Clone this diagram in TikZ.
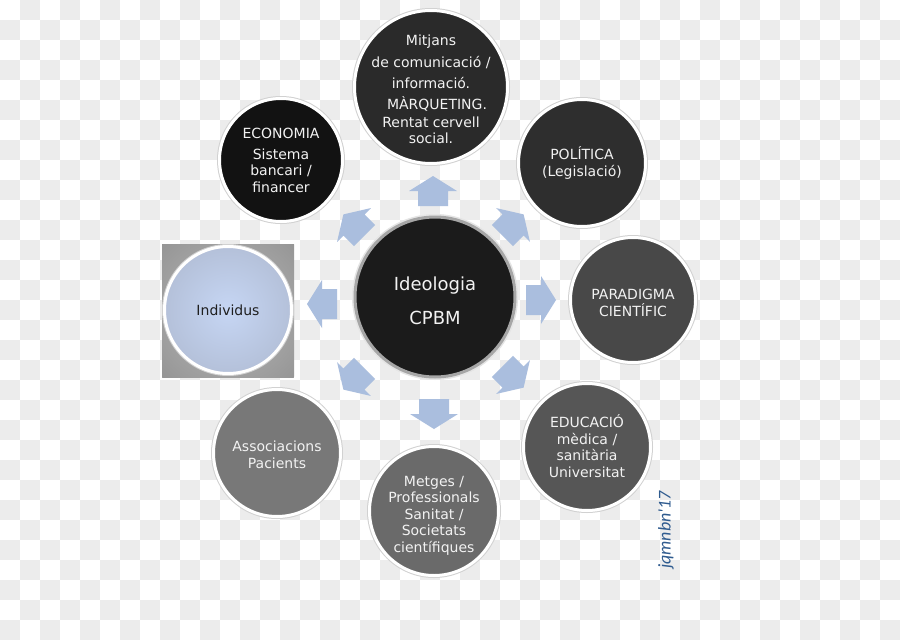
\documentclass[tikz,border=0pt]{standalone}
\usepackage{fontspec}
\setmainfont{DejaVu Sans}
\newfontfamily\sigfont{Carlito}
\definecolor{chk}{HTML}{ECECEC}
\definecolor{arrowblue}{HTML}{AABEDE}
\definecolor{txtw}{HTML}{F2F2F2}
\definecolor{cMit}{HTML}{2A2A2A}
\definecolor{cEco}{HTML}{121212}
\definecolor{cPol}{HTML}{2E2E2E}
\definecolor{cPar}{HTML}{484848}
\definecolor{cEdu}{HTML}{565656}
\definecolor{cMet}{HTML}{6A6A6A}
\definecolor{cAss}{HTML}{787878}
\definecolor{cCen}{HTML}{1B1B1B}
\definecolor{sigblue}{HTML}{2F5B8F}
\definecolor{sqin}{HTML}{B8B8B8}
\definecolor{sqmid}{HTML}{888888}
\definecolor{sqout}{HTML}{5E5E5E}
\definecolor{indc}{HTML}{C6D6F4}
\definecolor{indm}{HTML}{B2BED6}
\definecolor{indo}{HTML}{9AA1B0}
\pgfdeclareradialshading{sqshade}{\pgfpoint{0bp}{0bp}}{color(0bp)=(sqin);color(35bp)=(sqmid);color(50bp)=(sqout)}
\pgfdeclareradialshading{indshade}{\pgfpoint{0bp}{0bp}}{color(0bp)=(indc);color(28bp)=(indm);color(50bp)=(indo)}
\begin{document}
\begin{tikzpicture}[x=1pt,y=1pt,
  bub/.style={circle, inner sep=0pt, draw=white, line width=3pt,
    preaction={draw=black!18, line width=5pt}},
  txt/.style={text=txtw, align=center, inner sep=0pt, font=\fontsize{14}{16.5}\selectfont},
  arr/.style={fill=arrowblue}
]
\useasboundingbox (0,0) rectangle (900,-640);
% checkerboard background
\fill[white] (0,0) rectangle (900,-640);
\foreach \i in {0,...,44}{
  \foreach \j in {0,...,31}{
    \pgfmathtruncatemacro\p{mod(\i+\j,2)}
    \ifnum\p=1
      \fill[chk] (20*\i,-20*\j) rectangle (20*\i+20,-20*\j-20);
    \fi
  }
}
% arrows
\foreach \x/\y/\a in {433/191/90, 513/225/45, 541/300/0, 513/377/-45, 434/414/-90, 354/379/-135, 322/304/180, 354/225/135}{
  \fill[arr, shift={(\x,-\y)}, rotate=\a] (-15,-15) -- (0,-15) -- (0,-24) -- (15,0) -- (0,24) -- (0,15) -- (-15,15) -- cycle;
}
% Individus square
\begin{scope}
  \clip (162,-244) rectangle (294,-377);
  \shade[shading=sqshade] (228,-310.5) circle[radius=94];
\end{scope}
% circles
\node[bub, fill=cMit, minimum size=153pt] (mit) at (431,-87) {};
\node[bub, fill=cEco, minimum size=123pt] (eco) at (281,-160) {};
\node[bub, fill=cPol, minimum size=127pt] (pol) at (582,-163) {};
\node[bub, fill=cPar, minimum size=125pt] (par) at (633,-300) {};
\node[bub, fill=cEdu, minimum size=127pt] (edu) at (587,-447) {};
\node[bub, fill=cMet, minimum size=129pt] (met) at (434,-511) {};
\node[bub, fill=cAss, minimum size=127pt] (ass) at (277,-453) {};
\node[bub, shading=indshade, minimum size=127pt] (ind) at (228,-310) {};
\node[bub, fill=cCen, draw=black!35, preaction={draw=white!90!black, line width=6pt},
  minimum size=160pt] (cen) at (435,-297) {};
% texts
\node[txt] (mitT) at ([yshift=-2.5pt]mit.center)
  {Mitjans\\[5.5pt] de comunicació /\\[4.5pt] informació.\\[4.5pt] \hspace*{12pt}MÀRQUETING.\\[1.5pt] Rentat cervell\\ social.};
\node[txt] (ecoT) at (eco.center) {ECONOMIA\\[4.5pt] Sistema\\ bancari /\\ financer};
\node[txt] (polT) at (pol.center) {POLÍTICA\\ (Legislació)};
\node[txt] (parT) at ([yshift=-3pt]par.center) {PARADIGMA\\ CIENTÍFIC};
\node[txt] (eduT) at ([yshift=1pt]edu.center) {EDUCACIÓ\\ mèdica /\\ sanitària\\ Universitat};
\node[txt] (metT) at ([yshift=-4.5pt]met.center) {Metges /\\ Professionals\\ Sanitat /\\ Societats\\ científiques};
\node[txt] (assT) at ([yshift=-2pt]ass.center) {Associacions\\ Pacients};
\node[txt, text=black!88] (indT) at (ind.center) {Individus};
\node[txt, font=\fontsize{18}{34}\selectfont] (cenT) at ([yshift=-4pt]cen.center) {Ideologia\\ CPBM};
% signature
\node[rotate=90, text=sigblue, font=\sigfont\itshape\fontsize{18}{20}\selectfont] (sig) at (666,-530) {jqmnbn'17};
\end{tikzpicture}
\end{document}
